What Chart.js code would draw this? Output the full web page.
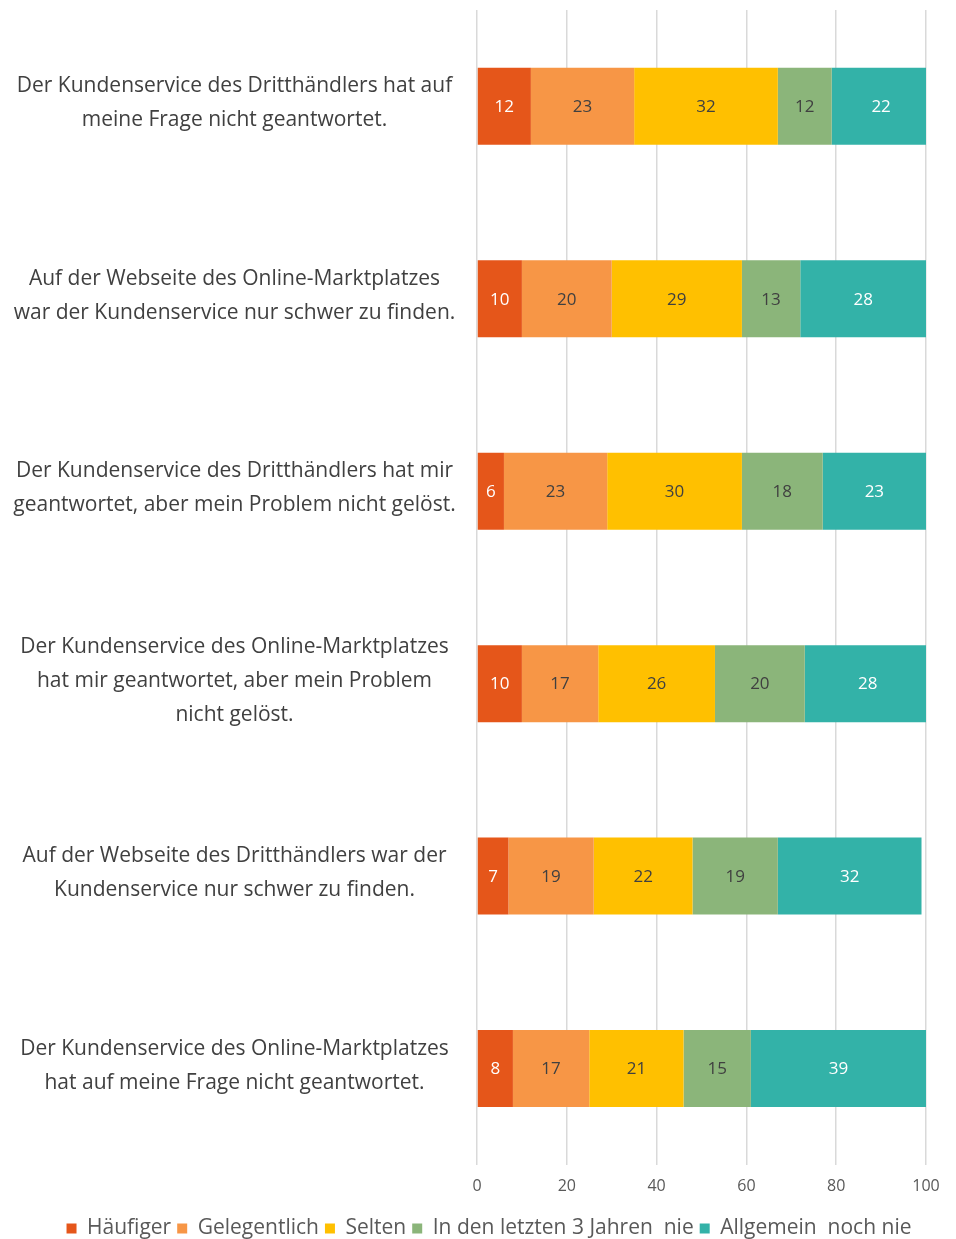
<!DOCTYPE html>
<html>
<head>
<meta charset="utf-8">
<script src="https://cdn.jsdelivr.net/npm/chart.js@4.4.1/dist/chart.umd.min.js"></script>
<style>
  html, body { margin:0; padding:0; background:#fff; }
  #wrap { width:956px; height:1239px; position:relative; }
</style>
</head>
<body>
<div id="wrap"><canvas id="c"></canvas></div>
<script>
// === Chart data ===
const categories = [
  ['Der Kundenservice des Dritthändlers hat auf', 'meine Frage nicht geantwortet.'],
  ['Auf der Webseite des Online-Marktplatzes', 'war der Kundenservice nur schwer zu finden.'],
  ['Der Kundenservice des Dritthändlers hat mir', 'geantwortet, aber mein Problem nicht gelöst.'],
  ['Der Kundenservice des Online-Marktplatzes', 'hat mir geantwortet, aber mein Problem', 'nicht gelöst.'],
  ['Auf der Webseite des Dritthändlers war der', 'Kundenservice nur schwer zu finden.'],
  ['Der Kundenservice des Online-Marktplatzes', 'hat auf meine Frage nicht geantwortet.']
];
const seriesNames = ['Häufiger', 'Gelegentlich', 'Selten', 'In den letzten 3 Jahren  nie', 'Allgemein  noch nie'];
const haeufiger    = [12, 10, 6, 10, 7, 8];
const gelegentlich = [23, 20, 23, 17, 19, 17];
const selten       = [32, 29, 30, 26, 22, 21];
const letzte3      = [12, 13, 18, 20, 19, 15];
const nochNie      = [22, 28, 23, 28, 32, 39];
const xTicks = [0, 20, 40, 60, 80, 100];

const colors = ['#E5561A', '#F79646', '#FFC000', '#8BB57A', '#33B2A8'];
const labelColors = ['#ffffff', '#404040', '#404040', '#404040', '#ffffff'];
const FONT = "'Open Sans', 'DejaVu Sans', sans-serif";

// === Inline value labels + centred category labels ===
const valueLabels = {
  id: 'valueLabels',
  afterLayout(chart){
    // legend sits a little right of the page centre in the original
    chart.legend.left += 26;
    chart.legend.right += 26;
  },
  afterDatasetsDraw(chart){
    const ctx = chart.ctx;
    ctx.save();
    ctx.font = '17px ' + FONT;
    ctx.textAlign = 'center';
    ctx.textBaseline = 'middle';
    chart.data.datasets.forEach((ds, i) => {
      const meta = chart.getDatasetMeta(i);
      meta.data.forEach((bar, j) => {
        ctx.fillStyle = labelColors[i];
        ctx.fillText(String(ds.data[j]), (bar.x + bar.base) / 2, bar.y + 1);
      });
    });
    ctx.restore();
  },
  afterDraw(chart){
    const ctx = chart.ctx, y = chart.scales.y;
    const lh = 34, cx = (y.left + y.right) / 2 - 4;
    ctx.save();
    ctx.font = '21px ' + FONT;
    ctx.fillStyle = '#404040';
    ctx.textAlign = 'center';
    ctx.textBaseline = 'middle';
    categories.forEach((lines, i) => {
      const yc = y.getPixelForTick(i) - 3;
      lines.forEach((t, k) => {
        ctx.fillText(t, cx, yc + (k - (lines.length - 1) / 2) * lh);
      });
    });
    ctx.restore();
  }
};

const allSeries = [haeufiger, gelegentlich, selten, letzte3, nochNie];

new Chart(document.getElementById('c'), {
  type: 'bar',
  data: {
    labels: categories.map(c => c.join(' ')),
    datasets: allSeries.map((d, i) => ({
      label: seriesNames[i],
      data: d,
      backgroundColor: colors[i],
      borderWidth: 0,
      categoryPercentage: 1,
      barPercentage: 0.4
    }))
  },
  options: {
    indexAxis: 'y',
    responsive: true,
    maintainAspectRatio: false,
    animation: false,
    layout: { padding: { top: 10, left: 0, right: 30, bottom: -10 } },
    plugins: {
      tooltip: { enabled: false },
      legend: {
        position: 'bottom',
        labels: {
          font: { family: FONT, size: 21 },
          color: '#595959',
          boxWidth: 10,
          boxHeight: 10,
          padding: 6
        }
      }
    },
    scales: {
      x: {
        stacked: true,
        min: 0, max: 100,
        afterBuildTicks(axis){ axis.ticks = xTicks.map(v => ({ value: v })); },
        afterFit(axis){ axis.height += 4; },
        grid: { color: '#d9d9d9', lineWidth: 1.5, drawTicks: false },
        border: { display: false },
        ticks: { font: { family: FONT, size: 16 }, color: '#595959', padding: 12 }
      },
      y: {
        stacked: true,
        grid: { display: false },
        border: { display: false },
        ticks: { display: false },
        afterFit(axis){ axis.width = 477; }
      }
    }
  },
  plugins: [valueLabels]
});
</script>
</body>
</html>
